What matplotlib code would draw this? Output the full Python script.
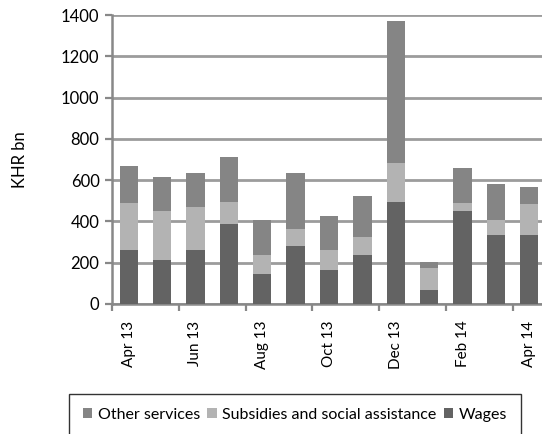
import numpy as np
import matplotlib
matplotlib.use('Agg')
import matplotlib.pyplot as plt

plt.rcParams['font.family'] = ['Lato', 'DejaVu Sans']

months = ['Apr 13', 'May 13', 'Jun 13', 'Jul 13', 'Aug 13', 'Sep 13', 'Oct 13',
          'Nov 13', 'Dec 13', 'Jan 14', 'Feb 14', 'Mar 14', 'Apr 14']
wages = [262, 213, 262, 388, 145, 281, 165, 237, 494, 68, 450, 334, 334]
subsidies = [227, 237, 208, 106, 92, 82, 97, 88, 189, 106, 39, 73, 150]
other = [179, 165, 165, 218, 170, 272, 164, 198, 688, 29, 170, 174, 83]

c_wages = '#636363'
c_subs = '#b3b3b3'
c_other = '#858585'

fig = plt.figure(figsize=(5.42, 4.34), dpi=100)
ax = fig.add_axes([112 / 542, 1 - 304 / 434, (546 - 112) / 542, (304 - 15) / 434])

x = np.arange(len(months))
w = 0.55
wages = np.array(wages)
subsidies = np.array(subsidies)
other = np.array(other)

b_w = ax.bar(x, wages, w, color=c_wages, zorder=3, label='Wages')
b_s = ax.bar(x, subsidies, w, bottom=wages, color=c_subs, zorder=3,
             label='Subsidies and social assistance')
b_o = ax.bar(x, other, w, bottom=wages + subsidies, color=c_other, zorder=3,
             label='Other services')

ax.set_xlim(-0.5, 12.5)
ax.set_ylim(0, 1400)
ax.set_yticks(range(0, 1401, 200))
ax.yaxis.grid(True, color='#9c9c9c', linewidth=2.0, zorder=0)
ax.tick_params(axis='y', labelsize=12, length=5, color='#888888', width=1.6, pad=4)

# x ticks at every second boundary, labels under every second bar
ax.set_xticks(np.arange(-0.5, 12.6, 2))
ax.set_xticklabels([])
ax.set_xticks(x[::2], minor=True)
ax.set_xticklabels(months[::2], minor=True, rotation=90, fontsize=11)
ax.tick_params(axis='x', which='major', length=5, color='#888888', width=1.6)
ax.tick_params(axis='x', which='minor', length=0, pad=12)

for s in ['top', 'right']:
    ax.spines[s].set_visible(False)
ax.spines['left'].set_color('#888888')
ax.spines['left'].set_linewidth(1.8)
ax.spines['bottom'].set_color('#888888')
ax.spines['bottom'].set_linewidth(1.8)

ax.set_ylabel('KHR bn', fontsize=12, labelpad=24)

leg = fig.legend([b_o, b_s, b_w],
                 ['Other services', 'Subsidies and social assistance', 'Wages'],
                 loc='upper left', bbox_to_anchor=(69 / 542, 1 - 394 / 434),
                 ncol=3, fontsize=11.5, frameon=True, fancybox=False,
                 handlelength=0.6, handleheight=0.6, handletextpad=0.35,
                 columnspacing=0.45, borderpad=0.85, borderaxespad=0)
leg.get_frame().set_edgecolor('black')
leg.get_frame().set_linewidth(1.0)

fig.savefig('out.png', dpi=100)
